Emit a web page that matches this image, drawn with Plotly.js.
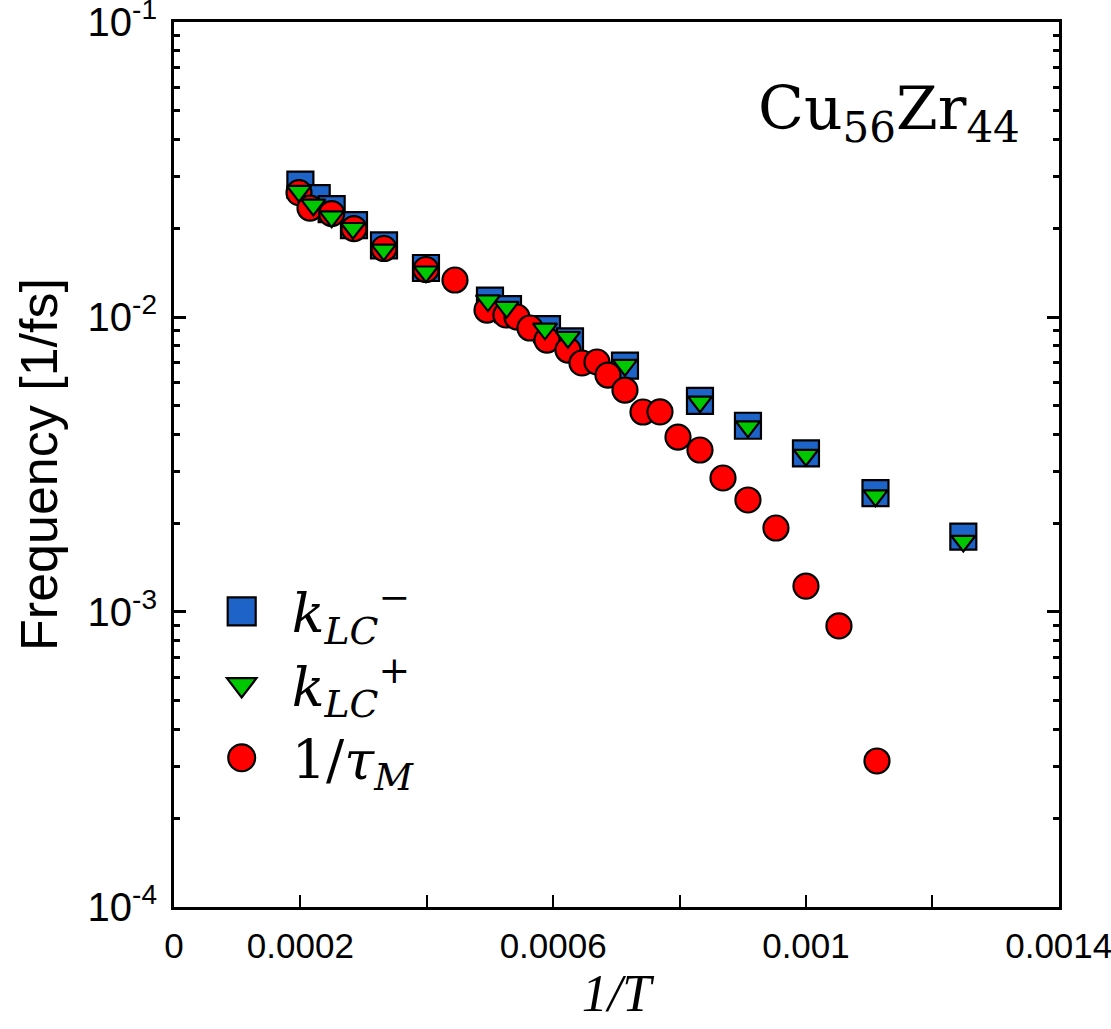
<!DOCTYPE html>
<html>
<head>
<meta charset="utf-8">
<script src="https://cdn.plot.ly/plotly-3.0.1.min.js"></script>
<style>
  html, body { margin: 0; padding: 0; background: #ffffff; }
  #chart { width: 1111px; height: 1029px; }
</style>
</head>
<body>
<div id="chart"></div>
<script>
// ---- data ----
const invT_kminus = [0.0002, 0.0002258, 0.0002495, 0.0002848, 0.0003323, 0.0003987, 0.0005, 0.0005285, 0.0005902, 0.0006266, 0.0007136, 0.0008323, 0.0009082, 0.001, 0.00111, 0.001249];
const freq_kminus = [0.0281, 0.0253, 0.0232, 0.0205, 0.0175, 0.01466, 0.01136, 0.01064, 0.0091, 0.00827, 0.00684, 0.0052, 0.00428, 0.00345, 0.00253, 0.0018];

const invT_kplus = [0.0001978, 0.0002204, 0.0002495, 0.0002832, 0.0003318, 0.0003987, 0.0004968, 0.0005264, 0.000587, 0.0006234, 0.0007136, 0.0008323, 0.0009082, 0.001, 0.00111, 0.001249];
const freq_kplus = [0.0267, 0.0240, 0.0219, 0.0200, 0.0169, 0.01424, 0.01137, 0.0108, 0.00912, 0.00854, 0.00687, 0.00516, 0.00425, 0.0034, 0.00248, 0.00174];

const invT_tau = [0.0001978, 0.0002152, 0.0002495, 0.0002848, 0.0003323, 0.0003987, 0.0004446, 0.0004953, 0.0005253, 0.0005427, 0.0005633, 0.0005902, 0.0006234, 0.0006456, 0.0006693, 0.0006867, 0.0007136, 0.0007421, 0.000769, 0.0007975, 0.0008323, 0.0008687, 0.0009082, 0.0009525, 0.001, 0.0010522, 0.0011124];
const freq_tau = [0.02642, 0.02341, 0.02243, 0.01995, 0.01707, 0.01449, 0.01335, 0.01056, 0.01016, 0.0100, 0.009178, 0.008356, 0.007727, 0.006985, 0.007039, 0.006358, 0.005655, 0.004764, 0.00477, 0.003918, 0.003541, 0.002846, 0.002397, 0.001926, 0.001224, 0.000897, 0.0003125];

const xTickVals = [0, 0.0002, 0.0004, 0.0006, 0.0008, 0.001, 0.0012, 0.0014];
const xTickText = ['0', '0.0002', '', '0.0006', '', '0.001', '', '0.0014'];
const yTickVals = [1e-4, 1e-3, 1e-2, 1e-1];
const yTickText = ['10<sup>-4</sup>', '10<sup>-3</sup>', '10<sup>-2</sup>', '10<sup>-1</sup>'];

const seriesNames = [
  '<i>k</i><sub><i>LC</i></sub><sup>\u2212</sup>',
  '<i>k</i><sub><i>LC</i></sub><sup>+</sup>',
  '1/<i>\u03c4</i><sub><i>M</i></sub>'
];
const titleText = 'Cu<sub>56</sub>Zr<sub>44</sub>';

// minor tick positions (2..9 of each decade) - axis styling
const yMinor = [];
[1e-4, 1e-3, 1e-2].forEach(d => { for (let k = 2; k <= 9; k++) yMinor.push(k * d); });

const edge = { color: '#000000', width: 2.2 };

const traces = [
  { x: invT_kminus, y: freq_kminus, name: seriesNames[0], type: 'scatter', mode: 'markers',
    legendrank: 1, legendgroup: 'a',
    marker: { symbol: 'square', size: 26, color: '#1E64C8', line: edge } },
  { x: invT_tau, y: freq_tau, name: seriesNames[2], type: 'scatter', mode: 'markers',
    legendrank: 3, legendgroup: 'c',
    marker: { symbol: 'circle', size: 25, color: '#FF0000', line: edge } },
  { x: invT_kplus, y: freq_kplus, name: seriesNames[1], type: 'scatter', mode: 'markers',
    legendrank: 2, legendgroup: 'b',
    marker: { symbol: 'triangle-down', size: 21, color: '#00C800', line: edge } }
];

const layout = {
  width: 1111, height: 1029,
  margin: { l: 174, r: 52, t: 22, b: 122, pad: 0 },
  paper_bgcolor: '#ffffff', plot_bgcolor: '#ffffff',
  showlegend: true,
  legend: {
    x: 0.02, y: 0.381, xanchor: 'left', yanchor: 'top',
    bgcolor: 'rgba(0,0,0,0)', borderwidth: 0,
    font: { family: 'DejaVu Serif', size: 54, color: '#000000' },
    itemwidth: 90, tracegroupgap: 19, traceorder: 'normal'
  },
  xaxis: {
    type: 'linear', range: [0, 0.0014004],
    tickmode: 'array', tickvals: xTickVals, ticktext: xTickText,
    ticks: 'inside', ticklen: 12, tickwidth: 2, tickcolor: '#000000',
    showline: true, linewidth: 3, linecolor: '#000000', mirror: true,
    showgrid: false, zeroline: false,
    tickfont: { family: 'Liberation Sans', size: 35, color: '#000000' },
    ticklabelstandoff: 6, ticklabeloverflow: 'allow',
    title: { text: '<i>1/T</i>', font: { family: 'Liberation Serif', size: 52, color: '#000000' }, standoff: 8 }
  },
  yaxis: {
    type: 'log', range: [-4.0002, -0.9998],
    tickmode: 'array', tickvals: yTickVals, ticktext: yTickText,
    ticks: 'inside', ticklen: 12, tickwidth: 3, tickcolor: '#000000',
    minor: { tickmode: 'array', tickvals: yMinor, ticks: 'inside', ticklen: 6, tickwidth: 3, tickcolor: '#000000', showgrid: false },
    showline: true, linewidth: 3, linecolor: '#000000', mirror: 'ticks',
    showgrid: false, zeroline: false,
    tickfont: { family: 'Liberation Sans', size: 40, color: '#000000' },
    ticklabelstandoff: 6, ticklabeloverflow: 'allow',
    title: { text: 'Frequency [1/fs]', font: { family: 'Liberation Sans', size: 52, color: '#000000' }, standoff: 14 }
  },
  annotations: [{
    xref: 'paper', yref: 'paper', x: 0.958, y: 0.898, xanchor: 'right', yanchor: 'middle',
    text: titleText, showarrow: false,
    font: { family: 'DejaVu Serif', size: 60, color: '#000000' }
  }]
};

Plotly.newPlot('chart', traces, layout, { displayModeBar: false, staticPlot: true }).then(function (gd) {
  // enlarge legend symbols to match the reference (Plotly caps them at 16px)
  const groups = gd.querySelectorAll('.legend .traces');
  groups.forEach(function (g) {
    const t = g.__data__ && g.__data__[0] && g.__data__[0].trace;
    const sym = t ? t.marker.symbol : '';
    const s = sym === 'square' ? 1.75 : (sym === 'circle' ? 1.68 : 1.6);
    g.querySelectorAll('.legendpoints path').forEach(function (p) {
      const tr = p.getAttribute('transform') || '';
      p.setAttribute('transform', tr + ' scale(' + s + ')');
      p.style.vectorEffect = 'non-scaling-stroke';
    });
  });
});
</script>
</body>
</html>
